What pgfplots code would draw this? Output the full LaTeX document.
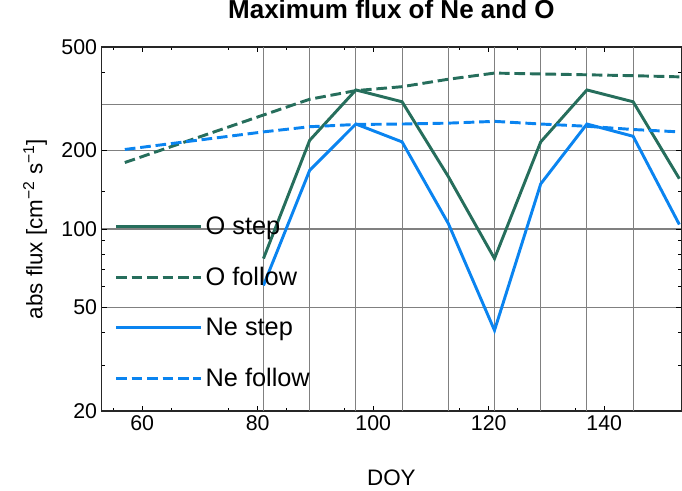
\documentclass[border=0pt]{standalone}
\usepackage{fontspec}
\setmainfont{Liberation Sans}
\usepackage{pgfplots}
\pgfplotsset{compat=1.18}
\definecolor{ogreen}{RGB}{38,110,92}
\definecolor{neblue}{RGB}{10,132,240}
\begin{document}
\begin{tikzpicture}
\path[use as bounding box] (0pt,0pt) rectangle (511.5pt,368.25pt);
\begin{axis}[
  at={(76.3pt,60pt)}, anchor=south west, scale only axis,
  width=434.5pt, height=273pt,
  xmin=53, xmax=153.3, ymode=log, ymin=20, ymax=500,
  xtick={60,80,...,140}, minor xtick={55,65,...,150},
  ytick={20,50,100,200,500}, yticklabels={20,50,100,200,500},
  minor ytick={30,40,60,70,80,90,140,400},
  extra x ticks={81,89,...,145}, extra x tick labels={},
  extra x tick style={grid=major, major tick length=0pt},
  extra y ticks={300}, extra y tick labels={},
  extra y tick style={grid=major, major tick length=0pt},
  ymajorgrids,
  grid style={black!50, line width=0.8pt},
  tick pos=both, tick align=inside,
  major tick length=4pt, minor tick length=2.2pt,
  tick style={black, line width=0.6pt},
  axis line style={black!85, line width=0.8pt},
  /pgf/number format/assume math mode=true,
  tick label style={font=\fontsize{16}{19}\selectfont},
  title={Maximum flux of Ne and O},
  title style={font=\fontsize{19.5}{23}\selectfont\bfseries, at={(axis description cs:0.5,1.055)}, anchor=base},
  xlabel={DOY},
  xlabel style={font=\fontsize{16.8}{20}\selectfont, at={(axis description cs:0.5,-0.184)}, anchor=center},
  ylabel={abs flux [cm\textsuperscript{−2} s\textsuperscript{−1}]},
  ylabel style={font=\fontsize{16.8}{20}\selectfont, at={(axis description cs:-0.115,0.5)}, anchor=center},
  legend style={draw=none, fill=none, font=\fontsize{19}{22}\selectfont,
    at={(axis description cs:0.015,0.298)}, anchor=west, row sep=19pt},
  legend cell align=left,
  legend image code/.code={\draw[#1] (0pt,0pt) -- (57pt,0pt); \path (0pt,0pt) -- (64pt,0pt);},
]
\addplot[ogreen, line width=2.2pt] coordinates {(81,77)(89,219)(97,342)(105,308)(113,159)(121,77)(129,216)(137,342)(145,308)(153,156)};
\addlegendentry{O step}
\addplot[ogreen, line width=2.2pt, dash pattern=on 8pt off 3.6pt] coordinates {(57,180)(81,274)(89,315)(97,340)(105,352)(113,376)(121,397)(129,394)(137,391)(145,388)(153,384)};
\addlegendentry{O follow}
\addplot[neblue, line width=2.2pt] coordinates {(81,60.7)(89,168)(97,253)(105,216)(113,105)(121,40.8)(129,149)(137,253)(145,227)(153,104)};
\addlegendentry{Ne step}
\addplot[neblue, line width=2.2pt, dash pattern=on 8pt off 3.6pt] coordinates {(57,202)(81,236)(89,247)(97,252)(105,253)(113,255)(121,259)(129,253)(137,248)(145,241)(153,236)};
\addlegendentry{Ne follow}
\end{axis}
\end{tikzpicture}
\end{document}
